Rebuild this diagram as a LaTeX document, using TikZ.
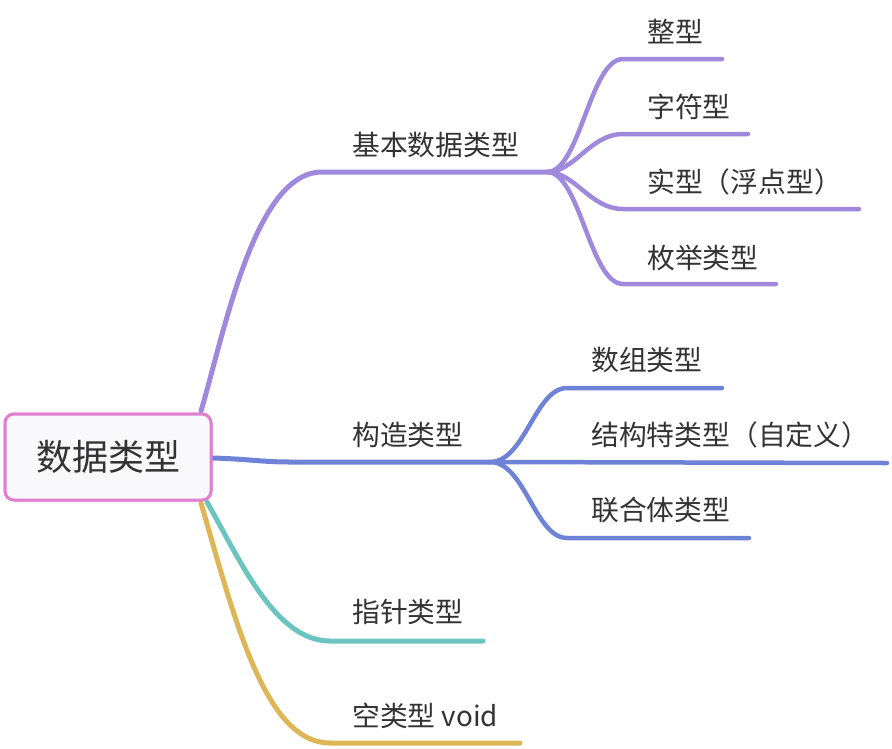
\documentclass[tikz,border=0pt]{standalone}
\usepackage{fontspec}
\setmainfont{Noto Sans CJK SC}
\definecolor{cpurple}{RGB}{160,136,220}
\definecolor{cblue}{RGB}{110,130,215}
\definecolor{cteal}{RGB}{108,196,192}
\definecolor{cgold}{RGB}{221,182,86}
\definecolor{cpink}{RGB}{224,128,208}
\definecolor{ctext}{RGB}{51,51,51}
\definecolor{crootfill}{RGB}{249,249,251}
\begin{document}
\begin{tikzpicture}[x=1pt,y=-1pt,
  lbl/.style={anchor=west,inner sep=0pt,text=ctext,font=\fontsize{27.8}{32}\selectfont},
  rootbox/.style={draw=cpink,line width=3pt,fill=crootfill,rounded corners=9pt,minimum width=206pt,minimum height=86pt,text=ctext,font=\fontsize{36}{40}\selectfont},
  mainline/.style={line width=5pt,line cap=round},
  subline/.style={line width=4.5pt,line cap=round}]
\useasboundingbox (0,0) rectangle (892,748);
% root
\node[rootbox] (root) at (108,457) {数据类型};
% coordinates
\coordinate (pS) at (201,411);
\coordinate (pA) at (322,172);
\coordinate (pB) at (547,172);
\coordinate (bS) at (212,458);
\coordinate (bA) at (292,462);
\coordinate (bB) at (490,462);
\coordinate (tS) at (207,502);
\coordinate (tA) at (330,641);
\coordinate (tE) at (483,641);
\coordinate (gS) at (201,503);
\coordinate (gA) at (330,743);
\coordinate (gE) at (520,743);
% purple children
\coordinate (p1a) at (623,59);  \coordinate (p1e) at (722,59);
\coordinate (p2a) at (623,134); \coordinate (p2e) at (748,134);
\coordinate (p3a) at (623,209); \coordinate (p3e) at (859,209);
\coordinate (p4a) at (623,284); \coordinate (p4e) at (776,284);
% blue children
\coordinate (b1a) at (567,388); \coordinate (b1e) at (722,388);
\coordinate (b2e) at (887,463);
\coordinate (b3a) at (567,538); \coordinate (b3e) at (749,538);
% labels
\node[lbl] (lp) at (352,145) {基本数据类型};
\node[lbl] (lp1) at (647,32) {整型};
\node[lbl] (lp2) at (647,107) {字符型};
\node[lbl] (lp3) at (647,182) {实型（浮点型）};
\node[lbl] (lp4) at (647,258) {枚举类型};
\node[lbl] (lb) at (352,435) {构造类型};
\node[lbl] (lb1) at (591,360) {数组类型};
\node[lbl] (lb2) at (591,435) {结构特类型（自定义）};
\node[lbl] (lb3) at (591,510) {联合体类型};
\node[lbl] (lt) at (352,612) {指针类型};
\node[lbl] (lg) at (352,716) {空类型 void};
% purple branch
\draw[cpurple,mainline] (pS) .. controls (225,330) and (255,172) .. (pA) -- (pB);
\draw[cpurple,subline] (pB) .. controls (580,172) and (590,59) .. (p1a) -- (p1e);
\draw[cpurple,subline] (pB) .. controls (575,172) and (590,134) .. (p2a) -- (p2e);
\draw[cpurple,subline] (pB) .. controls (575,172) and (590,209) .. (p3a) -- (p3e);
\draw[cpurple,subline] (pB) .. controls (580,172) and (590,284) .. (p4a) -- (p4e);
% blue branch
\draw[cblue,mainline] (bS) .. controls (250,459) and (260,462) .. (bA) -- (bB);
\draw[cblue,subline] (bB) .. controls (525,462) and (535,388) .. (b1a) -- (b1e);
\draw[cblue,subline] (bB) -- (b2e);
\draw[cblue,subline] (bB) .. controls (525,462) and (535,538) .. (b3a) -- (b3e);
% teal & gold
\draw[cgold,mainline] (gS) .. controls (235,620) and (265,743) .. (gA) -- (gE);
\draw[cteal,mainline] (tS) .. controls (240,560) and (275,641) .. (tA) -- (tE);
% redraw root on top
\node[rootbox] at (root.center) {数据类型};
\end{tikzpicture}
\end{document}
